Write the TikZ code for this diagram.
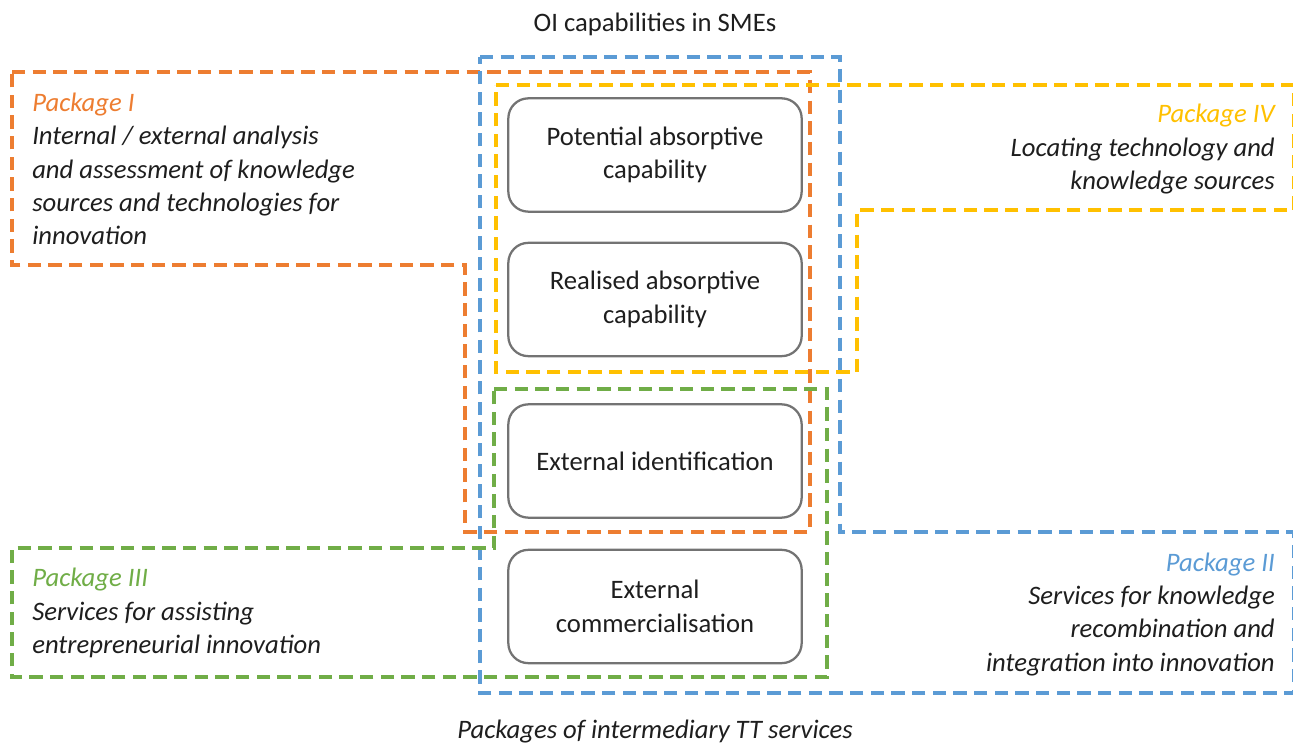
\documentclass[tikz,border=0pt]{standalone}
\usepackage{fontspec}
\setmainfont{Carlito}
\usepackage{tikz}
\usetikzlibrary{shapes}

\definecolor{pkgorange}{HTML}{ED7D31}
\definecolor{pkgblue}{HTML}{5B9BD5}
\definecolor{pkgyellow}{HTML}{FFC000}
\definecolor{pkggreen}{HTML}{70AD47}
\definecolor{pkgtextcol}{HTML}{1E1E1E}

\begin{document}
\begin{tikzpicture}[x = 0.75pt, y = -0.75pt,
  capbox/.style = {draw = black!55, line width = 1.7pt, rounded corners = 15pt,
    minimum width = 220pt, minimum height = 85pt, align = center,
    text = pkgtextcol, font = \fontsize{20}{25}\selectfont},
  pkgline/.style = {line width = 2.6pt, dash pattern = on 10pt off 5.5pt},
  pkgtext/.style = {inner sep = 0pt, text = pkgtextcol,
    font = \fontsize{20}{25}\selectfont\itshape}]

\useasboundingbox (0,0) rectangle (1293,748);

\node[anchor = base, inner sep = 0pt, text = pkgtextcol,
  font = \fontsize{20}{25}\selectfont] (oicap) at (655,32) {OI capabilities in SMEs};

% capability boxes
\node[capbox] (potcap) at (655,155) {Potential absorptive\\capability};
\node[capbox] (realcap) at (655,299.5) {Realised absorptive\\capability};
\node[capbox] (extid) at (655,461) {External identification};
\node[capbox] (extcom) at (655,606.5) {External\\commercialisation};

% package outlines
\draw[pkgline, pkgorange] (12,72) -- (810,72) -- (810,532) -- (465,532) -- (465,265) -- (12,265) -- cycle;
\draw[pkgline, pkgblue] (480,57) -- (840,57) -- (840,532) -- (1294,532) -- (1294,693) -- (480,693) -- cycle;
\draw[pkgline, pkgyellow] (496,85) -- (1294,85) -- (1294,210) -- (857,210) -- (857,372) -- (496,372) -- cycle;
\draw[pkgline, pkggreen] (494,389) -- (827,389) -- (827,677) -- (12,677) -- (12,548) -- (494,548) -- cycle;

% package texts (base = last line)
\node[pkgtext, anchor = base west, align = left] (pkgI) at (32,245)
  {\textcolor{pkgorange}{Package I}\\Internal / external analysis\\and assessment of knowledge\\sources and technologies for\\innovation};
\node[pkgtext, anchor = base east, align = right] (pkgIV) at (1275,189.5)
  {\textcolor{pkgyellow}{Package IV}\\Locating technology and\\knowledge sources};
\node[pkgtext, anchor = base west, align = left] (pkgIII) at (32,653.5)
  {\textcolor{pkggreen}{Package III}\\Services for assisting\\entrepreneurial innovation};
\node[pkgtext, anchor = base east, align = right] (pkgII) at (1275,671)
  {\textcolor{pkgblue}{Package II}\\Services for knowledge\\recombination and\\integration into innovation};

\node[pkgtext, anchor = base] (ttserv) at (655,738) {Packages of intermediary TT services};

\end{tikzpicture}
\end{document}
